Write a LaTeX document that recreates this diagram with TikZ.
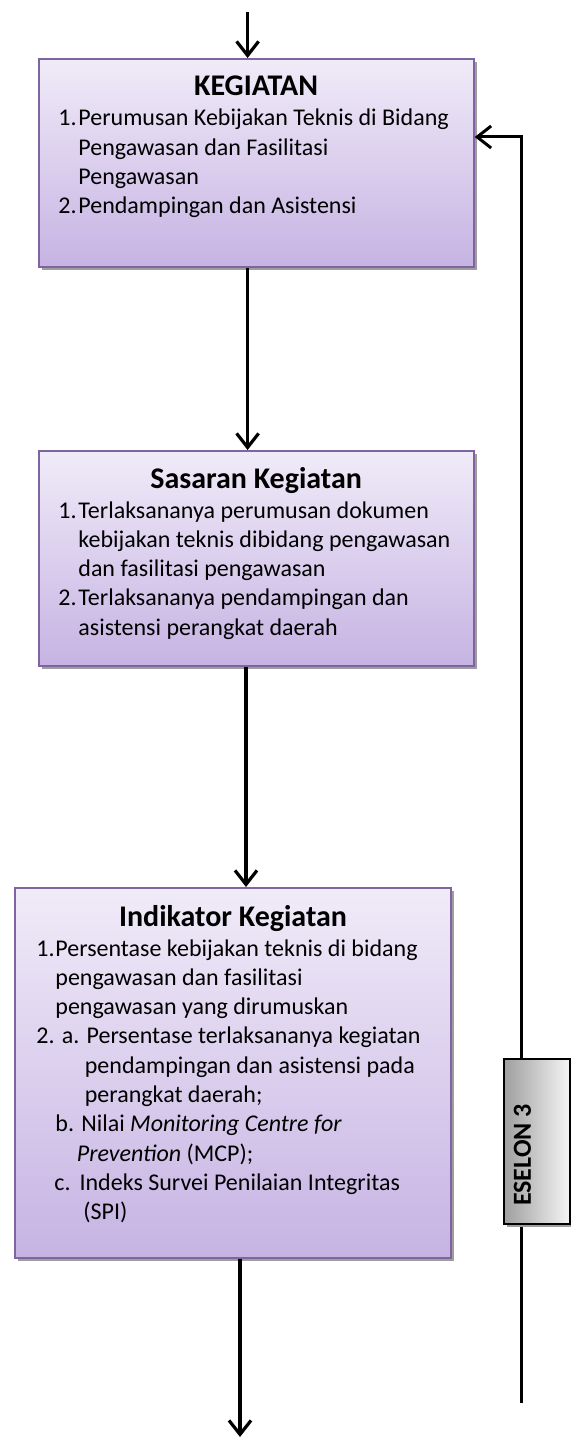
\documentclass[tikz,border=0pt]{standalone}
\usepackage{fontspec}
\setmainfont{Carlito}
\usetikzlibrary{arrows.meta,calc,positioning,shadows}
\definecolor{ungu}{HTML}{8064A2}
\definecolor{ungumuda}{HTML}{F0EBF8}
\definecolor{ungutua}{HTML}{C6B3E3}

\begin{document}
\begin{tikzpicture}[
		x=0.5pt, y=-0.5pt,
		kotak/.style={rectangle, draw=ungu, line width=1pt, top color=ungumuda, bottom color=ungutua,
			inner sep=0pt, anchor=north west,
			drop shadow={shadow xshift=1.5pt, shadow yshift=-1.5pt, fill=black!38, opacity=1}},
		judul/.style={font=\fontsize{15}{18}\selectfont\bfseries, anchor=base, inner sep=0pt},
		isi/.style={font=\fontsize{12}{14.65}\selectfont, anchor=base west, inner sep=0pt},
		panah/.style={-{Straight Barb[length=7pt,width=11pt]}, line width=1.6pt},
		eselon/.style={rectangle, draw=black, line width=1pt, left color=black!38, right color=black!4,
			inner sep=0pt, anchor=north west,
			drop shadow={shadow xshift=1.5pt, shadow yshift=-1.5pt, fill=black!38, opacity=1}}
		]
		\useasboundingbox (0,0) rectangle (571,1439);
	
		% kotak-kotak
		\node[kotak, minimum width=217.6pt, minimum height=104pt] (kegiatan) at (37.5,58) {};
		\node[kotak, minimum width=217.6pt, minimum height=107.5pt] (sasaran) at (37.5,450) {};
		\node[kotak, minimum width=218pt, minimum height=185pt] (indikator) at (14,887) {};
	
		% judul
		\node[judul] (judulKeg) at ($(kegiatan.north)+(0,38)$) {KEGIATAN};
		\node[judul] (judulSas) at ($(sasaran.north)+(0,38)$) {Sasaran Kegiatan};
		\node[judul] (judulInd) at ($(indikator.north)+(0,39)$) {Indikator Kegiatan};
	
		% isi
		\node[isi] (isiKeg) at ($(kegiatan.north west)+(20.5,68)$) {\begin{tabular}[t]{@{}l@{}}
			\makebox[10pt][l]{1.}Perumusan Kebijakan Teknis di Bidang\\
			\hspace*{10pt}Pengawasan dan Fasilitasi\\
			\hspace*{10pt}Pengawasan\\
			\makebox[10pt][l]{2.}Pendampingan dan Asistensi
		\end{tabular}};
		\node[isi] (isiSas) at ($(sasaran.north west)+(20.5,68)$) {\begin{tabular}[t]{@{}l@{}}
			\makebox[10pt][l]{1.}Terlaksananya perumusan dokumen\\
			\hspace*{10pt}kebijakan teknis dibidang pengawasan\\
			\hspace*{10pt}dan fasilitasi pengawasan\\
			\makebox[10pt][l]{2.}Terlaksananya pendampingan dan\\
			\hspace*{10pt}asistensi perangkat daerah
		\end{tabular}};
		\node[isi] (isiInd) at ($(indikator.north west)+(22,69)$) {\begin{tabular}[t]{@{}l@{}}
			\makebox[9.5pt][l]{1.}Persentase kebijakan teknis di bidang\\
			\hspace*{9.5pt}pengawasan dan fasilitasi\\
			\hspace*{9.5pt}pengawasan yang dirumuskan\\
			2. a. Persentase terlaksananya kegiatan\\
			\hspace*{24.25pt}pendampingan dan asistensi pada\\
			\hspace*{24.25pt}perangkat daerah;\\
			\hspace*{9.5pt}b. Nilai \textit{Monitoring Centre for}\\
			\hspace*{20.25pt}\textit{Prevention} (MCP);\\
			\hspace*{9pt}c.\hspace{4.5pt}Indeks Survei Penilaian Integritas\\
			\hspace*{23.5pt}(SPI)
		\end{tabular}};
	
		% panah utama
		\coordinate (masuk) at (247.6,12);
		\coordinate (keluar) at (240,1437);
		\draw[panah] (masuk) -- (masuk |- kegiatan.north);
		\draw[panah] (kegiatan.south -| masuk) -- (sasaran.north -| masuk);
		\draw[panah] ([xshift=-0.8pt]sasaran.south -| masuk) -- ([xshift=-0.8pt]indikator.north -| masuk);
		\draw[panah] (indikator.south -| keluar) -- (keluar);
	
		% umpan balik
		\coordinate (balik) at (521,1403);
		\draw[panah, line width=1.5pt] (balik) |- ([yshift=13pt]kegiatan.east);
	
		\node[eselon, minimum width=33.25pt, minimum height=82.5pt] (kotakEselon) at (502.5,1058) {};
		\node[rotate=90, font=\fontsize{13}{15}\selectfont\bfseries, inner sep=0pt] (teksEselon)
			at ($(kotakEselon.north west)+(20,97)$) {ESELON 3};
	
	\end{tikzpicture}
\end{document}
